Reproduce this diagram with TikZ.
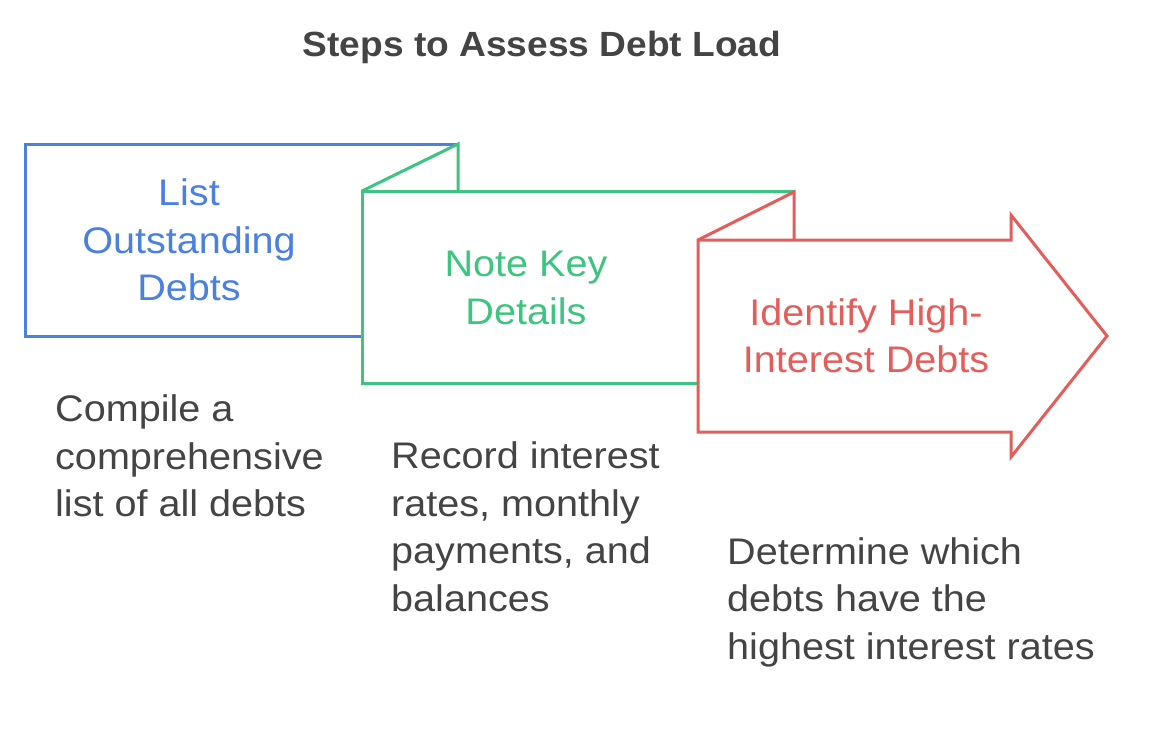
\documentclass[tikz,border=0pt]{standalone}
\usepackage{fontspec}
\setmainfont{Liberation Sans}
\newfontfamily\bodyfont[FakeStretch=1.07]{Liberation Sans}
\newfontfamily\titlefont[FakeStretch=1.06]{Liberation Sans}
\definecolor{cblue}{RGB}{74,128,222}
\definecolor{cgreen}{RGB}{61,196,128}
\definecolor{cred}{RGB}{226,94,90}
\definecolor{ctext}{RGB}{68,68,68}
\begin{document}
\begin{tikzpicture}[x=1pt,y=-1pt,
  shapeline/.style={line width=3pt,line join=miter},
  boxlabel/.style={font=\bodyfont\fontsize{37}{47.5}\selectfont,align=center,inner sep=0pt,anchor=center},
  desc/.style={font=\bodyfont\fontsize{37}{47.5}\selectfont,text=ctext,align=left,inner sep=0pt,anchor=west},
]
\useasboundingbox[fill=white] (0,0) rectangle (1154,744);
% title
\node[font=\titlefont\fontsize{35}{42}\selectfont\bfseries,text=ctext,inner sep=0pt] (title) at (542,47) {Steps to Assess Debt Load};
% blue step
\draw[shapeline,cblue] (362,336) -- (25,336) -- (25,144) -- (458,144);
% green step
\draw[shapeline,cgreen,fill=white] (697,383) -- (362,383) -- (362,191) -- (794,191);
\draw[shapeline,cgreen] (362,191) -- (458,144) -- (458,191);
% red step
\draw[shapeline,cred,fill=white] (698,240) -- (1011,240) -- (1011,215) -- (1107,336) -- (1011,457) -- (1011,432) -- (698,432) -- cycle;
\draw[shapeline,cred] (698,240) -- (794,192) -- (794,240);
% labels
\node[boxlabel,text=cblue] (l1) at (189,240) {List\\Outstanding\\Debts};
\node[boxlabel,text=cgreen] (l2) at (526,288) {Note Key\\Details};
\node[boxlabel,text=cred] (l3) at (866,336) {Identify High-\\Interest Debts};
% descriptions
\node[desc] (d1) at (55,456) {Compile a\\comprehensive\\list of all debts};
\node[desc] (d2) at (391,527) {Record interest\\rates, monthly\\payments, and\\balances};
\node[desc] (d3) at (727,602) {Determine which\\debts have the\\highest interest rates};
\end{tikzpicture}
\end{document}
